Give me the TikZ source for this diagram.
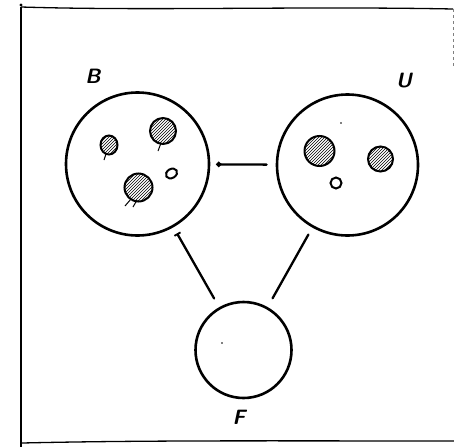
\documentclass[tikz,border=0pt]{standalone}
\usetikzlibrary{patterns,arrows.meta}
\begin{document}
\begin{tikzpicture}[x=1pt,y=-1pt,
  bigcirc/.style={circle,draw,line width=2.6pt,inner sep=0pt},
  blob/.style={draw,line width=2pt,pattern=north east lines},
  hole/.style={draw,line width=2pt},
  tail/.style={line width=1pt},
  conn/.style={line width=2.3pt,line cap=round},
  lab/.style={font=\sffamily\itshape\bfseries\huge},
  frameline/.style={line width=1.3pt}]
\useasboundingbox (0,0) rectangle (454,447);
% frame
\coordinate (f1) at (21,7);
\coordinate (f2) at (21,447);
\coordinate (f3) at (453,9);
\coordinate (f4) at (22,443);
\coordinate (f5) at (454,441);
\draw[frameline] (f1) -- (f2);
\draw[frameline] (f1) .. controls (150,11) and (300,6) .. (f3);
\draw[frameline] (f4) .. controls (150,440) and (300,441) .. (f5);
\draw[line width=0.8pt,gray,dashed] (453,9) -- (453,66);
\fill (21,5) circle (1.7);
% circles
\node[bigcirc,minimum size=143pt] (B) at (137.5,164) {};
\node[bigcirc,minimum size=141pt] (U) at (347.5,165) {};
\node[bigcirc,minimum size=96pt] (F) at (243.5,350) {};
% labels
\node[lab] (lB) at (93,76) {B};
\node[lab] (lU) at (404,81) {U};
\node[lab] (lF) at (239,417) {F};
% blobs in B
\draw[blob] (109,145) ellipse (8.5 and 9.5);
\draw[blob] (163,131) circle (13);
\draw[blob] (138.5,187.5) circle (14);
\draw[hole,rotate around={30:(171.5,173.5)}] (171.5,173.5) ellipse (6 and 4.5);
\draw[tail] (106,154) -- (104,160);
\draw[tail] (161,143) -- (158,151);
\draw[tail] (131,199) -- (125,206);
\draw[tail] (137,200) -- (133,207);
% blobs in U
\draw[blob] (319.5,151) circle (15);
\draw[blob] (380.5,159) circle (12.5);
\draw[hole] (336,183) circle (5.5);
\fill (341,123) circle (0.8);
% dot in F
\fill (222,343) circle (0.8);
% connectors
\draw[conn,-{Circle[length=5pt]},shorten <=9pt,shorten >=6pt] (U) -- (B);
\draw[conn,{Bar[width=7pt,line width=1.8pt]}-,shorten <=7pt,shorten >=10pt] (B) -- (F);
\draw[conn,shorten <=8pt,shorten >=10pt] (U) -- (F);
\end{tikzpicture}
\end{document}
